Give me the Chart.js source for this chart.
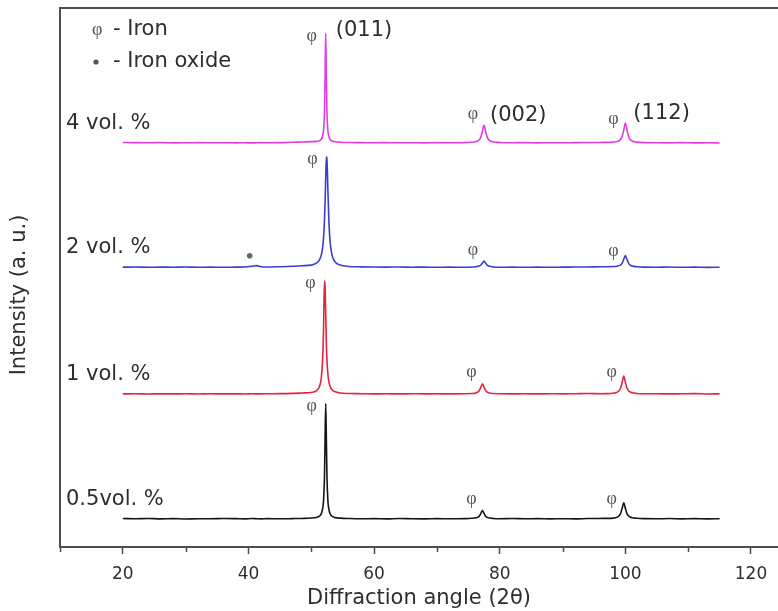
<!DOCTYPE html>
<html>
<head>
<meta charset="utf-8">
<script src="https://cdn.jsdelivr.net/npm/chart.js@4.4.0/dist/chart.umd.min.js"></script>
<style>
	html, body { margin: 0; padding: 0; background: #fff; overflow: hidden; }
	canvas { display: block; }
</style>
</head>
<body>
<canvas id="canXrd" width="778" height="611"></canvas>
<script>
'use strict'

//----------------------------------------------------------------------
// データ
// 2θ の測定点 (全系列共通)
const angles = [
	20, 22, 24, 26, 28, 30, 32, 34, 36, 38,
	39.5, 40.5, 41.3, 42, 43, 45, 47, 48.5,
	50.0, 50.8, 51.3, 51.6, 51.8, 51.95, 52.1, 52.2, 52.3, 52.4, 52.5, 52.65, 52.8, 53.0, 53.3, 53.8, 54.6,
	56, 58, 60, 62, 64, 66, 68, 70, 72,
	74.5, 75.5, 76.2, 76.7, 77.0, 77.25, 77.5, 77.75, 78.0, 78.4, 79.0, 80.0,
	82, 84, 86, 88, 90, 92, 94, 96,
	97.0, 98.0, 98.7, 99.2, 99.5, 99.75, 100.0, 100.25, 100.6, 101.1, 101.8, 103.0,
	105, 107, 109, 111, 113, 115];

// 強度 [a.u.] (ベースラインからの値)
const int05 = [
	0.18, 0.14, 0.20, 0.12, 0.17, 0.10, 0.15, 0.13, 0.19, 0.16,
	0.12, 0.18, 0.14, 0.11, 0.16, 0.13, 0.17, 0.20,
	0.27, 0.38, 0.62, 1.10, 1.95, 3.45, 7.85, 15.0, 21.5, 15.0, 7.85, 3.45, 1.92, 1.08, 0.60, 0.35, 0.25,
	0.18, 0.13, 0.16, 0.11, 0.19, 0.14, 0.12, 0.17, 0.13,
	0.17, 0.22, 0.31, 0.58, 1.14, 1.65, 1.12, 0.62, 0.40, 0.27, 0.20, 0.15,
	0.19, 0.13, 0.17, 0.12, 0.15, 0.11, 0.18, 0.20,
	0.21, 0.25, 0.44, 1.00, 2.12, 3.10, 2.10, 1.10, 0.57, 0.33, 0.24, 0.16,
	0.13, 0.18, 0.12, 0.16, 0.11, 0.14];

const int1 = [
	0.10, 0.12, 0.09, 0.11, 0.10, 0.13, 0.09, 0.12, 0.10, 0.11,
	0.09, 0.12, 0.10, 0.11, 0.13, 0.15, 0.20, 0.28,
	0.38, 0.67, 1.48, 3.10, 6.30, 11.9, 21.1, 20.0, 14.7, 9.60, 6.30, 3.70, 2.40, 1.48, 0.88, 0.49, 0.28,
	0.18, 0.14, 0.11, 0.12, 0.10, 0.13, 0.11, 0.12, 0.10,
	0.13, 0.17, 0.29, 0.65, 1.36, 2.00, 1.36, 0.73, 0.44, 0.26, 0.17, 0.13,
	0.11, 0.12, 0.10, 0.13, 0.11, 0.14, 0.18, 0.12,
	0.15, 0.23, 0.43, 1.05, 2.28, 3.40, 2.28, 1.19, 0.58, 0.31, 0.19, 0.13,
	0.12, 0.10, 0.13, 0.15, 0.09, 0.11];

const int2 = [
	0.12, 0.15, 0.10, 0.13, 0.11, 0.14, 0.10, 0.12, 0.09, 0.13,
	0.15, 0.28, 0.40, 0.20, 0.15, 0.20, 0.28, 0.38,
	0.50, 0.85, 1.45, 2.40, 3.70, 5.50, 8.80, 12.3, 16.6, 20.6, 20.0, 14.3, 8.80, 4.80, 2.40, 1.10, 0.50,
	0.25, 0.18, 0.14, 0.12, 0.15, 0.11, 0.13, 0.10, 0.12,
	0.10, 0.14, 0.20, 0.32, 0.52, 0.90, 1.25, 0.90, 0.50, 0.28, 0.16, 0.11,
	0.12, 0.09, 0.13, 0.10, 0.12, 0.14, 0.16, 0.19,
	0.20, 0.24, 0.30, 0.48, 0.85, 1.58, 2.25, 1.58, 0.68, 0.32, 0.20, 0.13,
	0.11, 0.14, 0.09, 0.12, 0.08, 0.10];

const int4 = [
	0.15, 0.12, 0.10, 0.14, 0.08, 0.10, 0.13, 0.09, 0.11, 0.08,
	0.10, 0.07, 0.09, 0.12, 0.10, 0.13, 0.18, 0.25,
	0.30, 0.35, 0.45, 0.75, 1.30, 2.40, 5.80, 12.5, 20.4, 12.4, 5.80, 2.40, 1.30, 0.75, 0.42, 0.28, 0.20,
	0.15, 0.12, 0.10, 0.13, 0.09, 0.11, 0.08, 0.12, 0.10,
	0.12, 0.18, 0.30, 0.60, 1.15, 2.25, 3.35, 2.25, 1.15, 0.50, 0.25, 0.15,
	0.10, 0.13, 0.08, 0.11, 0.09, 0.12, 0.14, 0.16,
	0.17, 0.22, 0.33, 0.68, 1.30, 2.50, 3.75, 2.50, 1.00, 0.42, 0.22, 0.13,
	0.10, 0.08, 0.12, 0.07, 0.10, 0.06];

const sampleNames = ['0.5vol. %', '1 vol. %', '2 vol. %', '4 vol. %'];
const sampleInts = [int05, int1, int2, int4];
const sampleOffsets = [5.1, 28.3, 51.8, 74.9];  // 縦にずらす量
const peakAngles = [52.3, 77.5, 99.9];           // φ (Iron) ピークの目安
const hklLabels = ['(011)', '(002)', '(112)'];
const oxideAngles = [40.2];                      // Iron oxide (2 vol. %)
const xTicks = [10, 20, 30, 40, 50, 60, 70, 80, 90, 100, 110, 120];

//----------------------------------------------------------------------
// 見た目
const lineColors = ['#151515', '#e3263f', '#3c3cd2', '#e43ce2'];
const frameColor = '#4d4d4d';
const textColor = '#2e2e2e';
const phiColor = '#555';
const FONT = '"DejaVu Sans", "Liberation Sans", sans-serif';
const PHI_FONT = '18px "Liberation Serif", "DejaVu Serif", serif';

// ピーク頂点をさがす
let findPeak = function (ints, a0) {
	let best = -1;
	for (let i = 0; i < angles.length; i++) {
		if (Math.abs(angles[i] - a0) > 1.0) continue;
		if (best < 0 || ints[i] > ints[best]) best = i;
	}
	return best;
};

// 注記などの描画 (全部描き終わってから)
const xrdDecor = {
	id: 'xrdDecor',
	afterDraw(chart) {
		const { ctx, chartArea, scales: { x, y } } = chart;
		ctx.save();
		ctx.beginPath();

		// 右側 (データの無い 118° より右) は枠なしで白く
		const xClear = x.getPixelForValue(118);
		ctx.fillStyle = '#fff';
		ctx.fillRect(xClear, chartArea.top + 1.5, chart.width - xClear, chartArea.bottom - chartArea.top - 3);

		// 上の枠線
		ctx.strokeStyle = frameColor;
		ctx.lineWidth = 2;
		ctx.beginPath();
		ctx.moveTo(chartArea.left - 1, chartArea.top);
		ctx.lineTo(chart.width, chartArea.top);
		ctx.stroke();

		// 副目盛 (短い)
		ctx.lineWidth = 1.5;
		for (const v of xTicks) {
			if (v % 20 === 0) continue;
			const px = Math.round(x.getPixelForValue(v)) + 0.5;
			ctx.beginPath();
			ctx.moveTo(px, chartArea.bottom);
			ctx.lineTo(px, chartArea.bottom + 5);
			ctx.stroke();
		}

		// 縦軸タイトル
		ctx.fillStyle = textColor;
		ctx.font = '21px ' + FONT;
		ctx.textAlign = 'center';
		ctx.textBaseline = 'middle';
		ctx.save();
		ctx.translate(20, 295);
		ctx.rotate(-Math.PI / 2);
		ctx.fillText('Intensity (a. u.)', 0, 0);
		ctx.restore();

		// 試料名
		ctx.textAlign = 'left';
		sampleNames.forEach((name, s) => {
			const base = y.getPixelForValue(sampleOffsets[s]);
			ctx.fillStyle = textColor;
			ctx.font = '21px ' + FONT;
			ctx.fillText(name, chartArea.left + 6, base - 20);
		});

		// φ 印と面指数
		sampleInts.forEach((ints, s) => {
			peakAngles.forEach((a0, k) => {
				const i = findPeak(ints, a0);
				const px = x.getPixelForValue(angles[i]);
				const py = y.getPixelForValue(ints[i] + sampleOffsets[s]);
				let dx = -14, dy = 3;
				if (k === 1) { dx = -11; dy = -11; }
				if (k === 2) { dx = -12; dy = -4; }
				ctx.fillStyle = phiColor;
				ctx.font = PHI_FONT;
				ctx.textAlign = 'center';
				ctx.fillText('\u03c6', px + dx, py + dy);

				if (s === sampleInts.length - 1) {
					ctx.fillStyle = textColor;
					ctx.font = '21px ' + FONT;
					ctx.textAlign = 'left';
					const hx = k === 0 ? 10 : (k === 1 ? 6 : 8);
					const hy = k === 0 ? -3 : -10;
					ctx.fillText(hklLabels[k], px + hx, py + hy);
				}
			});
		});

		// Iron oxide の印
		ctx.fillStyle = '#666';
		for (const a of oxideAngles) {
			const px = x.getPixelForValue(a);
			const py = y.getPixelForValue(sampleOffsets[2]) - 12;
			ctx.beginPath();
			ctx.arc(px, py, 2.8, 0, Math.PI * 2);
			ctx.fill();
		}

		// 凡例
		ctx.textAlign = 'left';
		ctx.fillStyle = phiColor;
		ctx.font = PHI_FONT;
		ctx.fillText('\u03c6', chartArea.left + 32, 30);
		ctx.beginPath();
		ctx.arc(chartArea.left + 36, 62, 2.6, 0, Math.PI * 2);
		ctx.fill();
		ctx.fillStyle = textColor;
		ctx.font = '21px ' + FONT;
		ctx.fillText('- Iron', chartArea.left + 53, 30);
		ctx.fillText('- Iron oxide', chartArea.left + 53, 62);

		ctx.beginPath();
		ctx.restore();
	}
};

// データセット
let datasetsXrd = sampleNames.map((name, s) => ({
	label: name,
	data: angles.map((a, i) => ({ x: a, y: sampleInts[s][i] + sampleOffsets[s] })),
	borderColor: lineColors[s],
	backgroundColor: lineColors[s],
	borderWidth: 1.6,
	pointRadius: 0,
	cubicInterpolationMode: 'monotone',
	fill: false
}));

const ctxXrd = document.getElementById('canXrd').getContext('2d');
let myChartXrd = new Chart(ctxXrd, {
	type: 'line',
	data: { datasets: datasetsXrd },
	options: {
		responsive: false,
		animation: false,
		layout: { padding: { top: 8, left: 0, right: 0, bottom: 0 } },
		plugins: {
			legend: { display: false },
			tooltip: { enabled: false }
		},
		scales: {
			x: {
				type: 'linear',
				min: 10,
				max: 124.3,
				afterBuildTicks: (scale) => { scale.ticks = xTicks.map(v => ({ value: v })); },
				afterFit: (scale) => { scale.height = 64; },
				border: { display: true, color: frameColor, width: 2 },
				grid: {
					display: true,
					drawOnChartArea: false,
					drawTicks: true,
					tickLength: 7,
					tickWidth: 1.5,
					tickColor: (c) => (c.tick && c.tick.value % 20 === 0) ? frameColor : 'rgba(0,0,0,0)'
				},
				ticks: {
					autoSkip: false,
					maxRotation: 0,
					padding: 10,
					color: textColor,
					font: { family: FONT, size: 17 },
					callback: (v) => (v % 20 === 0 ? v : '')
				},
				title: {
					display: true,
					text: 'Diffraction angle (2\u03b8)',
					color: textColor,
					font: { family: FONT, size: 21 },
					padding: { top: 0, bottom: 0 }
				}
			},
			y: {
				min: 0,
				max: 100,
				afterFit: (scale) => { scale.width = 60; },
				border: { display: true, color: frameColor, width: 2 },
				grid: { display: false },
				ticks: { display: false }
			}
		}
	},
	plugins: [xrdDecor]
});
</script>
</body>
</html>
